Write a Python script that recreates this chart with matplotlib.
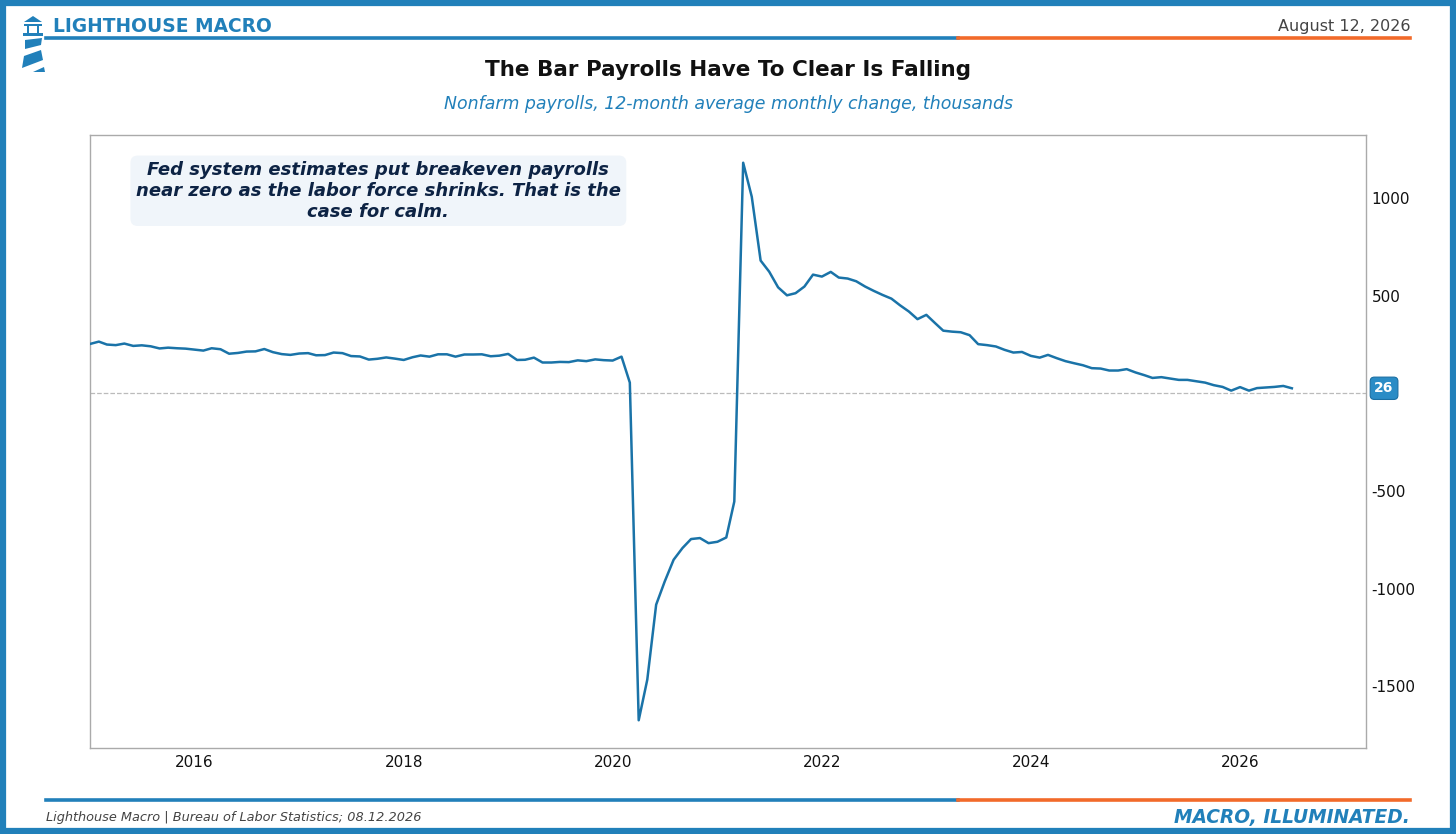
import numpy as np
import pandas as pd
import matplotlib
matplotlib.use("Agg")
import matplotlib.pyplot as plt
import matplotlib.dates as mdates
from matplotlib.patches import Rectangle, Polygon
from matplotlib.lines import Line2D

plt.rcParams["axes.unicode_minus"] = False

# 12-month average monthly change in nonfarm payrolls (thousands), Jan 2015 - Jul 2026
payrolls = [
    253, 265, 250, 247, 255, 243, 246, 241, 230, 234, 231, 229,   # 2015
    224, 219, 231, 226, 203, 207, 214, 215, 227, 211, 201, 197,   # 2016
    204, 206, 195, 196, 209, 206, 191, 189, 173, 177, 184, 178,   # 2017
    171, 185, 194, 188, 200, 200, 188, 199, 199, 200, 190, 193,   # 2018
    202, 171, 172, 183, 158, 158, 161, 160, 169, 165, 174, 170,   # 2019
    168, 188, 55, -1674, -1466, -1082, -963, -852, -792, -746, -741, -767,  # 2020
    -760, -738, -554, 1181, 1007, 680, 623, 543, 502, 513, 547, 608,        # 2021
    598, 622, 593, 588, 574, 547, 525, 504, 485, 451, 419, 380,   # 2022
    402, 359, 321, 316, 313, 298, 252, 247, 240, 223, 209, 212,   # 2023
    192, 183, 197, 180, 165, 154, 144, 129, 127, 117, 117, 124,   # 2024
    107, 93, 79, 83, 76, 69, 69, 62, 55, 42, 33, 14,              # 2025
    32, 14, 27, 30, 33, 38, 26,                                   # 2026
]
dates = pd.date_range("2015-01-01", periods=len(payrolls), freq="MS")
last_value = payrolls[-1]

title = "The Bar Payrolls Have To Clear Is Falling"
subtitle = "Nonfarm payrolls, 12-month average monthly change, thousands"
note = ("Fed system estimates put breakeven payrolls\n"
        "near zero as the labor force shrinks. That is the\n"
        "case for calm.")
brand = "LIGHTHOUSE MACRO"
date_str = "August 12, 2026"
source = "Lighthouse Macro | Bureau of Labor Statistics; 08.12.2026"
tagline = "MACRO, ILLUMINATED."

BLUE = "#2180ba"
LINE = "#1a73a8"
ORANGE = "#f26a2a"
NAVY = "#0d2344"

W, H = 1456, 834
fig = plt.figure(figsize=(W / 100, H / 100), dpi=100)
fig.patch.set_facecolor("white")


def fx(px):
    return px / W


def fy(py):
    return 1 - py / H


# outer frame
fig.patches.append(Rectangle((fx(3), fy(831)), fx(1450), 1 - 6 / H, transform=fig.transFigure,
                             fill=False, edgecolor=BLUE, linewidth=4.5, zorder=10))

# lighthouse icon
icon = [
    [(24, 22), (33, 16), (42, 22)],
    [(24, 24), (42, 24), (42, 26), (24, 26)],
    [(27, 26), (29, 26), (29, 33), (27, 33)],
    [(37, 26), (39, 26), (39, 33), (37, 33)],
    [(23, 33), (43, 33), (43, 36), (23, 36)],
    [(25, 40), (42, 38), (41, 45), (25, 49)],
    [(24, 56), (41, 50), (43, 60), (22, 68)],
    [(33, 72), (44, 67), (45, 72)],
]
for pts in icon:
    fig.patches.append(Polygon([(fx(x), fy(y)) for x, y in pts], closed=True,
                               transform=fig.transFigure, facecolor=BLUE, edgecolor="none"))

fig.text(fx(53), fy(27), brand, color=BLUE, fontsize=13.4, fontweight="bold", va="center", ha="left")
fig.text(fx(1410), fy(26), date_str, color="#444444", fontsize=11.5, va="center", ha="right")

# header and footer rules
for yy in (38, 800):
    fig.add_artist(Line2D([fx(46), fx(958)], [fy(yy), fy(yy)], color=BLUE, linewidth=2.6,
                          transform=fig.transFigure))
    fig.add_artist(Line2D([fx(958), fx(1410)], [fy(yy), fy(yy)], color=ORANGE, linewidth=2.6,
                          transform=fig.transFigure))

fig.text(0.5, fy(70), title, fontsize=15.5, fontweight="bold", color="#111111", ha="center", va="center")
fig.text(0.5, fy(104), subtitle, fontsize=12.5, style="italic", color=BLUE, ha="center", va="center")

fig.text(fx(46), fy(818), source, fontsize=9.3, style="italic", color="#444444", ha="left", va="center")
fig.text(fx(1410), fy(818), tagline, fontsize=13.4, style="italic", fontweight="bold", color=BLUE,
         ha="right", va="center")

# main chart
ax = fig.add_axes([fx(90), fy(748), fx(1276), (748 - 135) / H])
ax.plot(dates, payrolls, color=LINE, linewidth=1.8, zorder=3)
ax.axhline(0, color="#bbbbbb", linestyle="--", linewidth=0.9, zorder=1)

ax.set_xlim(pd.Timestamp("2015-01-01"), pd.Timestamp("2027-03-17"))
ax.set_ylim(-1816, 1323)
ax.xaxis.set_major_locator(mdates.YearLocator(2))
ax.xaxis.set_major_formatter(mdates.DateFormatter("%Y"))
ax.set_yticks([-1500, -1000, -500, 500, 1000])
ax.yaxis.tick_right()
ax.tick_params(axis="both", length=0, labelsize=11, colors="#111111")
ax.tick_params(axis="y", pad=4)
ax.tick_params(axis="x", pad=5)
for sp in ax.spines.values():
    sp.set_color("#aaaaaa")
    sp.set_linewidth(1.0)

# last value badge
ax.annotate(f"{last_value}", xy=(1.0, last_value), xycoords=("axes fraction", "data"),
            xytext=(13, 0), textcoords="offset points", ha="center", va="center",
            fontsize=10, fontweight="bold", color="white",
            bbox=dict(boxstyle="round,pad=0.3", facecolor="#2a8cc6", edgecolor="#1a6fa3", linewidth=0.8))

# annotation box
ax.text(0.226, 0.909, note, transform=ax.transAxes, ha="center", va="center",
        fontsize=13, fontweight="bold", style="italic", color=NAVY, linespacing=1.2,
        bbox=dict(boxstyle="round,pad=0.3,rounding_size=0.4", facecolor="#f0f5fa", edgecolor="none"))

fig.savefig("out.png", dpi=100)
